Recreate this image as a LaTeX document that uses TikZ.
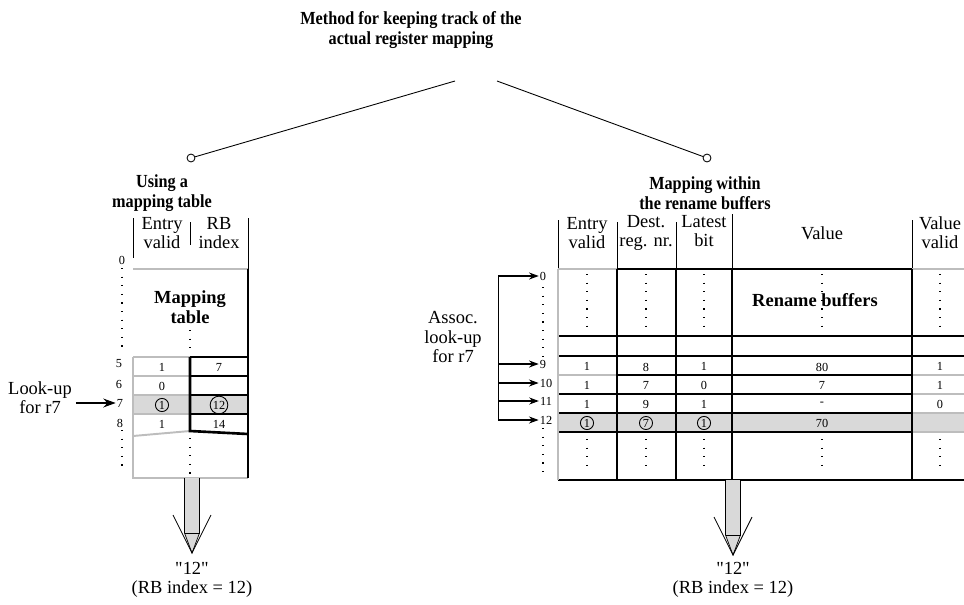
\documentclass[tikz,border=0pt]{standalone}
\usepackage{fontspec}
\setmainfont{Liberation Serif}
\newfontfamily\headfont[FakeStretch=0.88]{Liberation Serif}
\usetikzlibrary{positioning, arrows.meta, calc}
\definecolor{cCell}{HTML}{D9D9D9}
\definecolor{cGrid}{HTML}{BDBDBD}
\tikzset{
  headtxt/.style  ={font=\headfont\fontsize{10.5}{11.3}\selectfont\bfseries,
                    align=center, inner sep=1pt},
  tabtitle/.style ={font=\fontsize{10.5}{11.3}\selectfont\bfseries,
                    align=center, inner sep=1pt},
  coltxt/.style   ={font=\fontsize{10.5}{11}\selectfont,
                    align=center, inner sep=1pt},
  cellval/.style  ={font=\fontsize{7}{8}\selectfont, inner sep=0.5pt},
  rowlbl/.style   ={font=\fontsize{7}{8}\selectfont, inner sep=0.5pt},
  circled/.style  ={cellval, circle, draw, line width=0.5pt,
                    inner sep=0.6pt, minimum size=7pt},
  hub/.style      ={circle, draw, line width=0.5pt, fill=white,
                    inner sep=0pt, minimum size=4.5pt},
  gridline/.style ={draw=cGrid, line width=1.1pt},
  boldline/.style ={draw=black, line width=1.5pt},
  hairline/.style ={draw=black, line width=0.5pt},
  dotline/.style  ={draw=black, line width=0.7pt,
                    dash pattern=on 0.7pt off 4.2pt},
  lookup/.style   ={-{Stealth[length=7pt, width=5pt]}, line width=1.4pt},
  assoc/.style    ={-{Stealth[length=5.5pt, width=4pt]}, line width=0.6pt},
  bigarrow/.style ={fill=cCell, draw=black, line width=0.4pt},
}

\begin{document}
\begin{tikzpicture}[x=0.02cm, y=-0.02cm]
  \useasboundingbox (0,0) rectangle (964,605);

  % ============================================================
  % TOP: method and its two branches
  % ============================================================
  \node[headtxt] (method) at (411,30) {Method for keeping track of the\\
                                      actual register mapping};
  \coordinate (mleft)  at (455,81);
  \coordinate (mright) at (497,81);
  \node[hub] (lhub) at (191,158) {};
  \node[hub] (rhub) at (707,158) {};
  \draw[hairline] (mleft)  -- (lhub);
  \draw[hairline] (mright) -- (rhub);

  \node[headtxt] (lbranch) at (162,193) {Using a\\mapping table};
  \node[headtxt] (rbranch) at (705,193) {Mapping within\\the rename buffers};

  % ============================================================
  % LEFT: mapping table
  % ============================================================
  \fill[cCell] (133,395) rectangle (248,414);

  % header
  \draw[hairline] (133,218) -- (133,258);
  \draw[hairline] (190,222) -- (190,245);
  \draw[hairline] (248,218) -- (248,269);
  \node[coltxt] (lhentry) at (162,233) {Entry\\valid};
  \node[coltxt] (lhrb)    at (219,233) {RB\\index};

  % body
  \draw[gridline] (133,269) -- (248,269);
  \draw[gridline] (133,357) -- (133,478) -- (248,478);
  \foreach \y in {357,376,395,414} {
    \draw[gridline] (133,\y) -- (190,\y);
    \draw[boldline] (190,\y) -- (248,\y);
  }
  \draw[gridline] (133,436) -- (190,431);
  \draw[boldline] (190,357) -- (190,431) -- (248,434);
  \draw[boldline] (248,269) -- (248,478);

  \draw[dotline] (122,268) -- (122,352);
  \draw[dotline] (122,430) -- (122,472);
  \draw[dotline] (190,330) -- (190,355);
  \draw[dotline] (190,438) -- (190,477);

  \node[tabtitle] (maptab) at (190,307) {Mapping\\table};

  % row numbers
  \node[rowlbl] (lbl0) at (122,260) {0};
  \node[rowlbl] (lbl5) at (119,364) {5};
  \node[rowlbl] (lbl6) at (119,384) {6};
  \node[rowlbl] (lbl7) at (120,403) {7};
  \node[rowlbl] (lbl8) at (120,423) {8};

  % entries
  \node[cellval] (le5)  at (162,367) {1};
  \node[cellval] (lr5)  at (219,367) {7};
  \node[cellval] (le6)  at (162,386) {0};
  \node[circled] (le7)  at (162,405) {1};
  \node[circled] (lr7)  at (219,405) {12};
  \node[cellval] (le8)  at (162,424) {1};
  \node[cellval] (lr8)  at (219,424) {14};

  % look-up
  \node[coltxt] (lookuptxt) at (40,398) {Look-up\\for r7};
  \draw[lookup] (lookuptxt.east |- lbl7) ++(2,0) -- (lbl7.west);

  % ============================================================
  % RIGHT: rename buffers
  % ============================================================
  \fill[cCell] (558,413) rectangle (964,432);

  % header
  \draw[hairline] (558,220) -- (558,269);
  \draw[hairline] (617,222) -- (617,269);
  \draw[hairline] (676,222) -- (676,269);
  \draw[hairline] (732,214) -- (732,269);
  \draw[hairline] (912,220) -- (912,269);
  \node[coltxt] (rhentry)  at (587,233) {Entry\\valid};
  \node[coltxt] (rhdest)   at (646,233) {Dest.\\reg. nr.};
  \node[coltxt] (rhlatest) at (704,231) {Latest\\bit};
  \node[coltxt] (rhvalue)  at (822,233) {Value};
  \node[coltxt] (rhvalid)  at (940,233) {Value\\valid};

  % body
  \draw[gridline] (558,269) -- (617,269);
  \draw[gridline] (912,269) -- (964,269);
  \draw[boldline] (617,269) -- (912,269);
  \foreach \y in {336,356,394,413,432} \draw[boldline] (558,\y) -- (912,\y);
  \draw[gridline] (558,375) -- (617,375);
  \draw[boldline] (617,375) -- (912,375);
  \foreach \y in {336,356,480} \draw[boldline] (912,\y) -- (964,\y);
  \foreach \y in {375,394,413,432} \draw[gridline] (912,\y) -- (964,\y);
  \draw[boldline] (558,480) -- (912,480);
  \draw[gridline] (558,269) -- (558,480);
  \foreach \x in {617,676,732,912} \draw[boldline] (\x,269) -- (\x,480);

  \foreach \x in {587,646,704,822,940} {
    \draw[dotline] (\x,274) -- (\x,328);
    \draw[dotline] (\x,439) -- (\x,472);
  }
  \draw[dotline] (543,287) -- (543,357);
  \draw[dotline] (543,428) -- (543,472);

  \node[tabtitle] (renbuf) at (815,300) {Rename buffers};

  % row numbers
  \node[rowlbl] (rbl0)  at (543,276) {0};
  \node[rowlbl] (rbl9)  at (543,364) {9};
  \node[rowlbl] (rbl10) at (546,383) {10};
  \node[rowlbl] (rbl11) at (546,401) {11};
  \node[rowlbl] (rbl12) at (546,420) {12};

  % entries
  \node[cellval] (re9)  at (587,366) {1};
  \node[cellval] (rd9)  at (646,367) {8};
  \node[cellval] (rl9)  at (704,366) {1};
  \node[cellval] (rv9)  at (822,367) {80};
  \node[cellval] (rw9)  at (940,366) {1};
  \node[cellval] (re10) at (587,385) {1};
  \node[cellval] (rd10) at (646,385) {7};
  \node[cellval] (rl10) at (704,385) {0};
  \node[cellval] (rv10) at (822,385) {7};
  \node[cellval] (rw10) at (940,385) {1};
  \node[cellval] (re11) at (587,404) {1};
  \node[cellval] (rd11) at (646,404) {9};
  \node[cellval] (rl11) at (704,404) {1};
  \node[cellval] (rv11) at (822,404) {-};
  \node[cellval] (rw11) at (940,404) {0};
  \node[circled] (re12) at (587,423) {1};
  \node[circled] (rd12) at (646,423) {7};
  \node[circled] (rl12) at (704,423) {1};
  \node[cellval] (rv12) at (822,423) {70};

  % associative look-up
  \node[coltxt] (assoctxt) at (453,337) {Assoc.\\look-up\\for r7};
  \coordinate (bar) at (498,0);
  \draw[hairline] (bar |- rbl0) -- (bar |- rbl12);
  \foreach \r in {0,9,10,11,12}
    \draw[assoc] (bar |- rbl\r) -- (rbl\r.west);

  % ============================================================
  % RESULT ARROWS
  % ============================================================
  \coordinate (lout) at (192,478);
  \coordinate (rout) at (733,480);
  \foreach \o in {lout,rout} {
    \draw[bigarrow] ($(\o)+(-7.5,0)$) -- ($(\o)+(-7.5,55)$)
         -- ($(\o)+(0,75)$) -- ($(\o)+(7.5,55)$) -- ($(\o)+(7.5,0)$);
    \draw[hairline] ($(\o)+(-7.5,55)$) -- ($(\o)+(7.5,55)$);
    \draw[hairline] ($(\o)+(-19,37)$) -- ($(\o)+(0,75)$)
         -- ($(\o)+(19,37)$);
  }
  \node[coltxt] (lres) at (192,580) {\textquotedbl 12\textquotedbl\\(RB index = 12)};
  \node[coltxt] (rres) at (733,580) {\textquotedbl 12\textquotedbl\\(RB index = 12)};

\end{tikzpicture}
\end{document}
